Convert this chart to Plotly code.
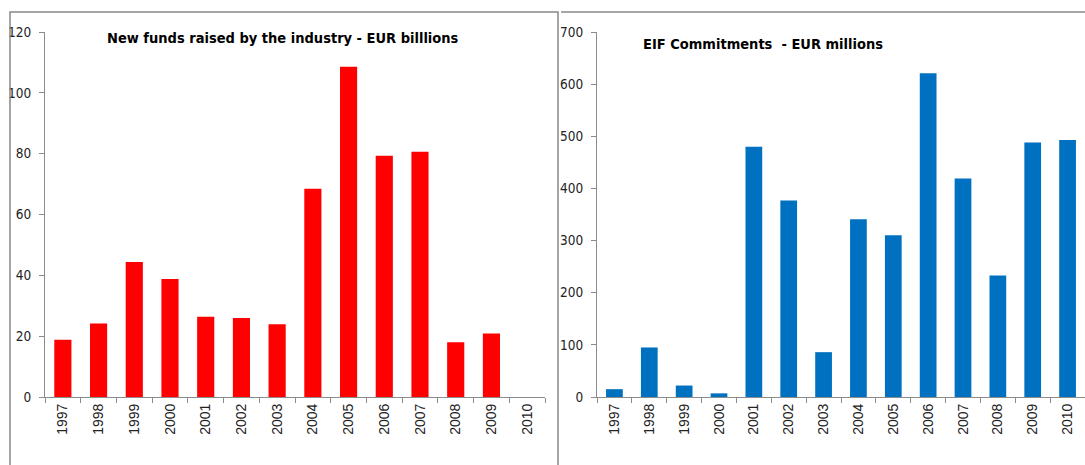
import plotly.graph_objects as go

years = ["1997", "1998", "1999", "2000", "2001", "2002", "2003",
         "2004", "2005", "2006", "2007", "2008", "2009", "2010"]
funds_raised = [18.8, 24.2, 44.4, 38.8, 26.4, 26.0, 23.9,
                68.5, 108.6, 79.3, 80.6, 18.0, 20.9, 0]
eif_commitments = [15, 95, 22, 7, 480, 377, 86,
                   341, 310, 621, 419, 233, 488, 493]

title_left = "New funds raised by the industry - EUR billlions"
title_right = "EIF Commitments  - EUR millions"

W, H = 1085, 465
narrow = "Liberation Sans Narrow, DejaVu Sans Condensed, Arial Narrow, sans-serif"
axis_col = "#8c8c8c"

fig = go.Figure()
fig.add_trace(go.Bar(x=years, y=funds_raised, marker=dict(color="#ff0000", line=dict(width=0)),
                     xaxis="x", yaxis="y", showlegend=False))
fig.add_trace(go.Bar(x=years, y=eif_commitments, marker=dict(color="#0070c0", line=dict(width=0)),
                     xaxis="x2", yaxis="y2", showlegend=False))

def px_x(v):
    return v / W

def px_y(v):
    return 1 - v / H

xcommon = dict(type="category", showline=True, linecolor=axis_col, linewidth=1,
               ticks="outside", ticklen=5, tickcolor=axis_col, tickson="boundaries",
               tickangle=-90, tickfont=dict(family="Liberation Sans, Arial, sans-serif", size=14, color="#222"),
               showgrid=False, zeroline=False, fixedrange=True, automargin=False)
ycommon = dict(showline=True, linecolor=axis_col, linewidth=1, ticks="outside", ticklen=5,
               tickcolor=axis_col, showgrid=False, zeroline=False, automargin=False,
               tickfont=dict(family=narrow, size=13.5, color="#222"), ticklabelstandoff=5)

fig.update_layout(
    width=W, height=H,
    margin=dict(l=0, r=0, t=0, b=0, autoexpand=False),
    paper_bgcolor="white", plot_bgcolor="white",
    bargap=0.52,
    xaxis=dict(domain=[px_x(45), px_x(545)], anchor="y", **xcommon),
    yaxis=dict(domain=[px_y(397), px_y(32)], anchor="x", range=[0, 120], dtick=20, **ycommon),
    xaxis2=dict(domain=[px_x(597), px_x(1085)], anchor="y2", **xcommon),
    yaxis2=dict(domain=[px_y(397), px_y(32)], anchor="x2", range=[0, 700], dtick=100, **ycommon),
)

# chart frames
line = dict(color="#888888", width=1.5)
fig.add_shape(type="path", xref="paper", yref="paper",
              path=f"M {px_x(10)} {px_y(470)} L {px_x(10)} {px_y(12)} L {px_x(558)} {px_y(12)} L {px_x(558)} {px_y(470)}",
              line=line)
fig.add_shape(type="line", xref="paper", yref="paper",
              x0=px_x(561), y0=px_y(12), x1=1.0, y1=px_y(12), line=line)

fig.add_annotation(text=f"<b>{title_left}</b>", xref="paper", yref="paper",
                   x=px_x(283), y=px_y(38), xanchor="center", yanchor="middle", showarrow=False,
                   font=dict(family=narrow, size=14.5, color="black"))
fig.add_annotation(text=f"<b>{title_right}</b>", xref="paper", yref="paper",
                   x=px_x(763), y=px_y(44), xanchor="center", yanchor="middle", showarrow=False,
                   font=dict(family=narrow, size=14.5, color="black"))

fig.write_html("out.html")
